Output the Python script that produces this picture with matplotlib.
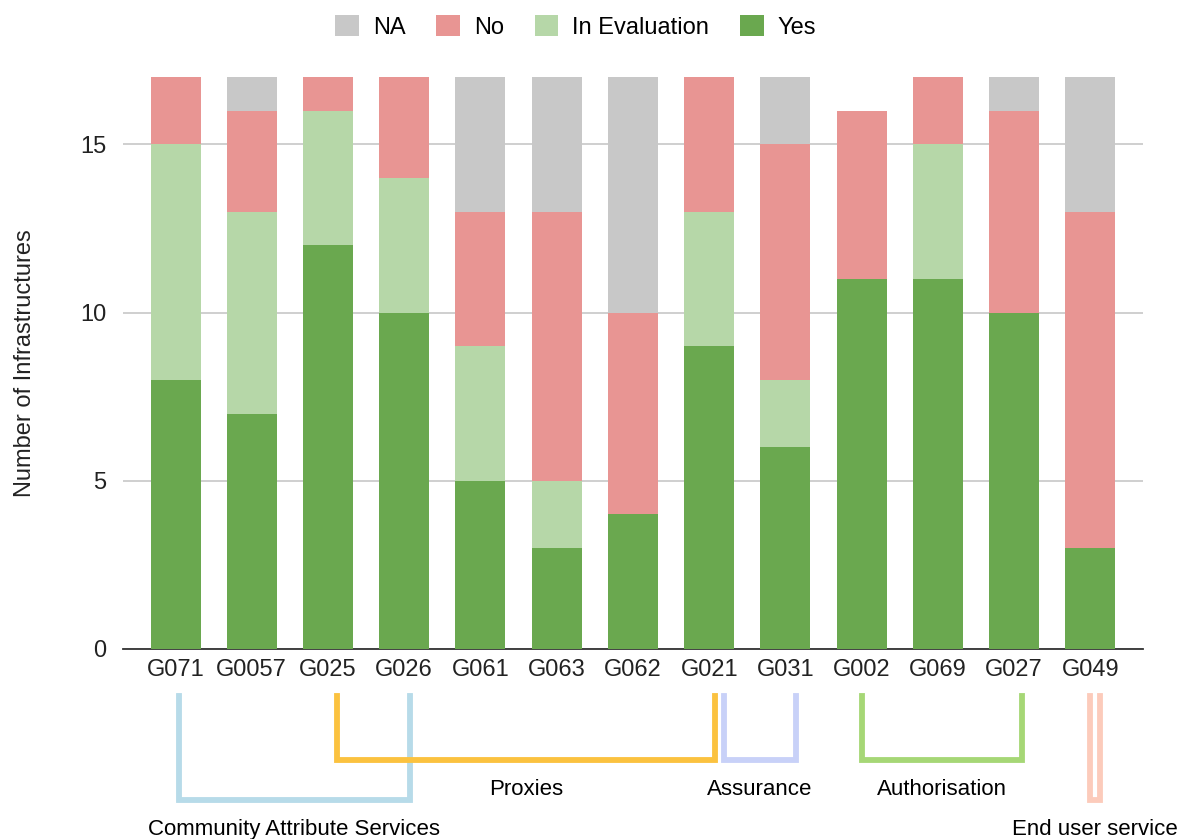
import matplotlib.pyplot as plt
import numpy as np

plt.rcParams['font.family'] = ['Liberation Sans', 'DejaVu Sans']

categories = ['G071', 'G0057', 'G025', 'G026', 'G061', 'G063', 'G062',
              'G021', 'G031', 'G002', 'G069', 'G027', 'G049']
yes = [8, 7, 12, 10, 5, 3, 4, 9, 6, 11, 11, 10, 3]
in_eval = [7, 6, 4, 4, 4, 2, 0, 4, 2, 0, 4, 0, 0]
no = [2, 3, 1, 3, 4, 8, 6, 4, 7, 5, 2, 6, 10]
na = [0, 1, 0, 0, 4, 4, 7, 0, 2, 0, 0, 1, 4]

# group brackets under the axis: label, x from, x to (in bar units), color, depth
groups = [
    ('Community Attribute Services', 0.05, 3.07, '#b7dbe9', 'deep'),
    ('Proxies', 2.12, 7.08, '#fbc23f', 'mid'),
    ('Assurance', 7.19, 8.14, '#c8d1f8', 'mid'),
    ('Authorisation', 9.0, 11.1, '#a6d776', 'mid'),
    ('End user service', 12.0, 12.12, '#fccbbb', 'deep'),
]

c_yes, c_eval, c_no, c_na = '#6aa84f', '#b6d7a8', '#e89593', '#c8c8c8'

fig = plt.figure(figsize=(11.82, 8.39), dpi=100)
ax = fig.add_axes([0.104, 0.2265, 0.863, 0.6815])

x = np.arange(len(categories))
w = 0.656
yes = np.array(yes); in_eval = np.array(in_eval); no = np.array(no); na = np.array(na)
ax.bar(x, na, w, bottom=yes + in_eval + no, color=c_na, label='NA', zorder=3)
ax.bar(x, no, w, bottom=yes + in_eval, color=c_no, label='No', zorder=3)
ax.bar(x, in_eval, w, bottom=yes, color=c_eval, label='In Evaluation', zorder=3)
ax.bar(x, yes, w, color=c_yes, label='Yes', zorder=3)

ax.set_xlim(-0.69, 12.69)
ax.set_ylim(0, 17)
ax.set_yticks([0, 5, 10, 15])
ax.yaxis.grid(True, color='#cccccc', lw=1.3, zorder=0)
ax.set_xticks(x)
ax.set_xticklabels(categories, fontsize=17, color='#222222')
ax.tick_params(axis='y', labelsize=17, length=0, pad=12, labelcolor='#222222')
ax.tick_params(axis='x', length=0, pad=7)
for s in ['top', 'right', 'left']:
    ax.spines[s].set_visible(False)
ax.spines['bottom'].set_color('#333333')
ax.spines['bottom'].set_linewidth(1.3)
ax.set_ylabel('Number of Infrastructures', fontsize=17, color='#222222', labelpad=32)

fig.legend(*ax.get_legend_handles_labels(), loc='center',
           bbox_to_anchor=(0.487, 0.968), ncol=4, frameon=False,
           fontsize=17, handlelength=1.0, handleheight=1.0, columnspacing=1.3,
           handletextpad=0.6)

# brackets, y in axes units
trans = ax.get_xaxis_transform()
y_top = -0.083
y_depth = {'deep': -0.264, 'mid': -0.194}
for label, x0, x1, col, d in groups:
    yb = y_depth[d]
    ax.plot([x0, x0, x1, x1], [y_top, yb, yb, y_top], color=col, lw=4.2,
            solid_joinstyle='miter', transform=trans, clip_on=False)
    ax.text((x0 + x1) / 2, yb - 0.052, label,
            transform=trans, ha='center', va='center', fontsize=16, color='#000000')

fig.savefig('out.png', dpi=100)
